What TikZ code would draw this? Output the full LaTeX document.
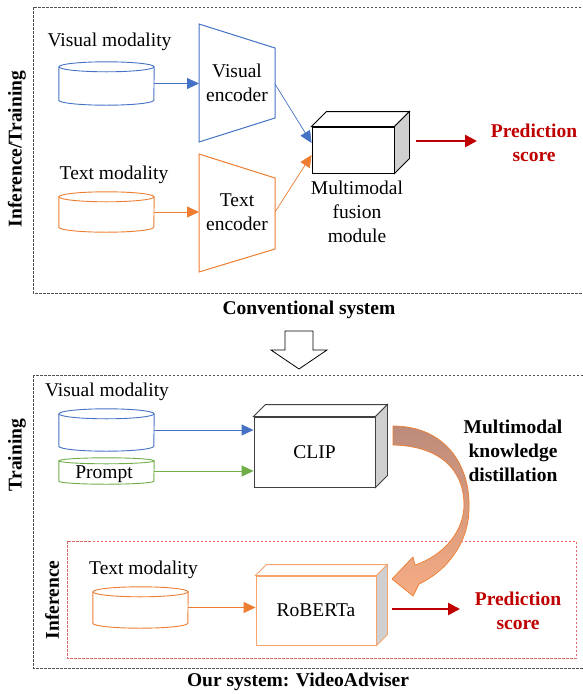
\documentclass[tikz,border=0pt]{standalone}
\usepackage{fontspec}
\setmainfont{Liberation Serif}
\usetikzlibrary{arrows.meta}
\definecolor{cblue}{HTML}{4472C4}
\definecolor{corange}{HTML}{ED7D31}
\definecolor{clorange}{HTML}{F4A46C}
\definecolor{cgreen}{HTML}{70AD47}
\definecolor{cred}{HTML}{C00000}
\definecolor{cside}{HTML}{D0D0D0}
\definecolor{cdash}{HTML}{505050}
\definecolor{crdash}{HTML}{E06666}
\definecolor{cbrown}{HTML}{BC8B7A}
\definecolor{cpeach}{HTML}{F6AC84}
\definecolor{cdark}{HTML}{404040}
\newcommand\drawcyl[3]{%
  \draw[#2, line width=0.9pt] ([yshift=-#3pt]#1.north) ellipse [x radius=47.5, y radius=#3];
  \draw[#2, line width=0.9pt] ([yshift=-#3pt]#1.north west) -- ([yshift=#3pt]#1.south west)
    arc[start angle=180, end angle=0, x radius=47.5, y radius=#3] -- ([yshift=-#3pt]#1.north east);}
\newcommand\cuboid[3]{%
  \draw[#3, line width=0.9pt, fill=white] (#1.north west) -- ([xshift=#2pt,yshift=#2pt]#1.north west)
    -- ([xshift=#2pt,yshift=#2pt]#1.north east) -- (#1.north east) -- cycle;
  \draw[#3, line width=0.9pt, fill=cside] (#1.north east) -- ([xshift=#2pt,yshift=#2pt]#1.north east)
    -- ([xshift=#2pt,yshift=#2pt]#1.south east) -- (#1.south east) -- cycle;}
\begin{document}
\begin{tikzpicture}[x=1pt,y=-1pt,
  lbl/.style={font=\fontsize{19.5}{24}\selectfont, inner sep=0, align=center},
  blbl/.style={font=\fontsize{19.5}{24}\selectfont\bfseries, inner sep=0, align=center},
  dbox/.style={cdash, line width=0.9pt, dash pattern=on 2.5pt off 1.5pt},
  rbox/.style={crdash, line width=0.9pt, dash pattern=on 2.5pt off 1.5pt},
  cylnode/.style={minimum width=95pt, inner sep=0},
  conn/.style={line width=0.9pt, -{Triangle[length=12pt,width=11pt]}},
  redarrow/.style={cred, line width=2.6pt, -{Triangle[length=12pt,width=12pt]}},
]
\useasboundingbox (0,0) rectangle (582,694);
\fill[white] (0,0) rectangle (582,694);

% ---------- top panel ----------
\draw[dbox] (33,7) rectangle (583,293);
\node[blbl, rotate=90] (it) at (17,149) {Inference/Training};

\node[lbl] (vmod) at (109.5,42) {Visual modality};
\node[cylnode, minimum height=43pt] (vcyl) at (106.5,83.5) {};
\drawcyl{vcyl}{cblue}{5}
\node[lbl] (tmod) at (114,175) {Text modality};
\node[cylnode, minimum height=40pt] (tcyl) at (106.5,212) {};
\drawcyl{tcyl}{corange}{5}

\draw[cblue, line width=1pt] (199,24) -- (275,48) -- (275,118) -- (199,142) -- cycle;
\node[lbl] (venc) at (237,83) {Visual\\encoder};
\draw[corange, line width=1pt] (199,154) -- (275,178) -- (275,249) -- (199,272) -- cycle;
\node[lbl] (tenc) at (237,212) {Text\\encoder};
\coordinate (vencL) at (199,83.5);
\coordinate (vencR) at (275,84);
\coordinate (tencL) at (199,212);
\coordinate (tencR) at (275,212);

\draw[conn, cblue] (vcyl.east) -- (vencL);
\draw[conn, corange] (tcyl.east) -- (tencL);

\node[draw, line width=0.9pt, minimum width=82pt, minimum height=46pt, inner sep=0, fill=white] (fus) at (353,150) {};
\cuboid{fus}{15}{black}
\draw[conn, cblue, line width=0.7pt] (vencR) -- ([yshift=7pt]fus.west);
\draw[conn, corange, line width=0.7pt] (tencR) -- ([yshift=-5pt]fus.west);
\node[lbl] (fuslbl) at (357,212) {Multimodal\\fusion\\module};

\node[blbl, text=cred] (pred1) at (534,143) {Prediction\\score};
\coordinate (r1s) at (416,141);
\coordinate (r1e) at (477,141);
\draw[redarrow] (r1s) -- (r1e);

\node[blbl] (conv) at (309,310) {Conventional system};

% hollow arrow
\draw[black, line width=0.8pt, fill=white] (285,331) -- (313,331) -- (313,350) -- (327,350) -- (299,369) -- (271,350) -- (285,350) -- cycle;

% ---------- bottom panel ----------
\draw[dbox] (33,375) rectangle (583,668);
\node[blbl, rotate=90] (tr) at (17,455) {Training};

\node[lbl] (vmod2) at (107,392) {Visual modality};
\node[cylnode, minimum height=42pt] (vcyl2) at (106.5,430) {};
\drawcyl{vcyl2}{cblue}{5}
\node[cylnode, minimum height=26pt] (pcyl) at (106.5,471) {};
\drawcyl{pcyl}{cgreen}{3}
\node[lbl] (prompt) at (104,474) {Prompt};

\node[draw=cdark, line width=0.9pt, minimum width=121pt, minimum height=70pt, inner sep=0, fill=white, font=\fontsize{19.5}{24}\selectfont] (clip) at (314.5,452) {CLIP};
\cuboid{clip}{12}{cdark}
\draw[conn, cblue] (vcyl2.east) -- (vcyl2.east -| clip.west);
\draw[conn, cgreen] (pcyl.east) -- (pcyl.east -| clip.west);

\node[blbl] (mkd) at (513,451) {Multimodal\\knowledge\\distillation};

\draw[rbox] (67,541) rectangle (576,658);
\node[blbl, rotate=90] (inf) at (52,600) {Inference};
\node[lbl] (tmod2) at (143.5,570) {Text modality};
\node[cylnode, minimum height=41pt] (tcyl2) at (140.5,607.5) {};
\drawcyl{tcyl2}{corange}{5}

\node[draw=clorange, line width=0.9pt, minimum width=120pt, minimum height=69pt, inner sep=0, fill=white, font=\fontsize{19.5}{24}\selectfont] (rob) at (316,610.5) {RoBERTa};
\cuboid{rob}{11}{clorange}
\draw[conn, corange] (tcyl2.east) -- (tcyl2.east -| rob.west);

\node[blbl, text=cred] (pred2) at (518,611) {Prediction\\score};
\coordinate (r2s) at (392,609);
\coordinate (r2e) at (460,609);
\draw[redarrow] (r2s) -- (r2e);

% curved distillation arrow
\def\kdpath{(393,426) .. controls (445,426) and (471,465) .. (469,510)
  .. controls (468,545) and (445,572) .. (419,584)
  -- (413,596) -- (392,579) -- (413,557) -- (415,565)
  .. controls (445,555) and (464,530) .. (464,505)
  .. controls (464,470) and (440,446) .. (393,445) -- cycle}
\shade[top color=cbrown, bottom color=cpeach] \kdpath;
\draw[corange, line width=0.7pt] \kdpath;

\node[blbl] (our) at (298,682) {Our system: VideoAdviser};
\end{tikzpicture}
\end{document}
